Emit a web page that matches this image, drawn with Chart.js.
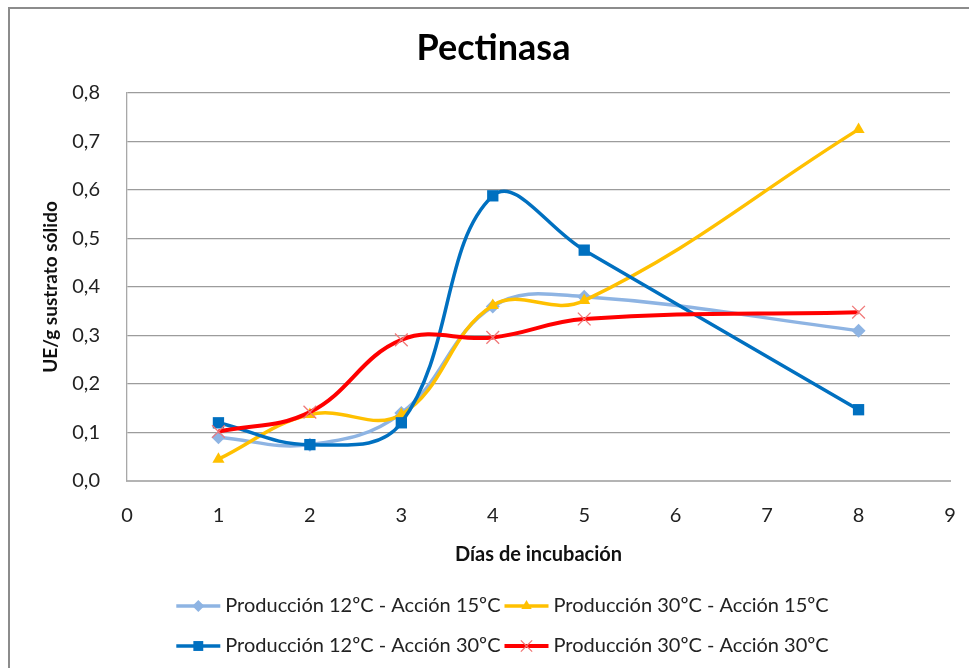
<!DOCTYPE html>
<html>
<head>
<meta charset="utf-8">
<script src="https://cdn.jsdelivr.net/npm/chart.js@4.4.0/dist/chart.umd.min.js"></script>
<style>
  html, body { margin: 0; padding: 0; background: #fff; }
  #wrap { position: relative; width: 969px; height: 668px; }
  #frame {
    position: absolute; left: 8px; top: 7px; right: -4px; bottom: -4px;
    border-top: 2px solid #8c8c8c; border-left: 2px solid #8c8c8c;
    pointer-events: none;
  }
</style>
</head>
<body>
<div id="wrap">
  <canvas id="chart" width="969" height="668"></canvas>
  <div id="frame"></div>
</div>
<script>
// Days of incubation (x) and enzyme activity (UE/g sustrato sólido)
const days = [1, 2, 3, 4, 5, 8];
const prod12acc15 = [0.09, 0.075, 0.14, 0.36, 0.38, 0.31];
const prod30acc15 = [0.045, 0.137, 0.137, 0.362, 0.372, 0.725];
const prod12acc30 = [0.12, 0.075, 0.12, 0.588, 0.476, 0.147];
const prod30acc30 = [0.102, 0.142, 0.291, 0.296, 0.334, 0.348];

const seriesNames = [
  "Producción 12ºC - Acción 15ºC",
  "Producción 30ºC - Acción 15ºC",
  "Producción 12ºC - Acción 30ºC",
  "Producción 30ºC - Acción 30ºC"
];

const FONT = "Lato, 'Open Sans', sans-serif";

const toPoints = values => values.map((v, i) => ({ x: days[i], y: v }));

const datasets = [
  {
    label: seriesNames[0],
    data: toPoints(prod12acc15),
    borderColor: "#8EB4E3",
    backgroundColor: "#8EB4E3",
    borderWidth: 3.5,
    pointStyle: "rectRot",
    pointRadius: 7,
    pointBorderWidth: 0,
    order: 4
  },
  {
    label: seriesNames[1],
    data: toPoints(prod30acc15),
    borderColor: "#FFC000",
    backgroundColor: "#FFC000",
    borderWidth: 3.5,
    pointStyle: "triangle",
    pointRadius: 7,
    pointBorderWidth: 0,
    order: 3
  },
  {
    label: seriesNames[2],
    data: toPoints(prod12acc30),
    borderColor: "#0070C0",
    backgroundColor: "#0070C0",
    borderWidth: 3.5,
    pointStyle: "rect",
    pointRadius: 8,
    pointBorderWidth: 0,
    order: 2
  },
  {
    label: seriesNames[3],
    data: toPoints(prod30acc30),
    borderColor: "#FF0000",
    backgroundColor: "#FF0000",
    borderWidth: 4,
    pointStyle: "crossRot",
    pointRadius: 9,
    pointBorderColor: "#F07878",
    pointBorderWidth: 1.3,
    order: 1
  }
];

// legend drawn like the spreadsheet one: line with marker in the middle, 2 columns
const bottomLegend = {
  id: "bottomLegend",
  afterDraw(chart) {
    const ctx = chart.ctx;
    const lineLen = 44, gap = 5, colGap = 4;
    const rowsY = [606, 646];
    ctx.save();
    ctx.font = "20px " + FONT;
    const widths = datasets.map(d => lineLen + gap + ctx.measureText(d.label).width);
    const colW = [Math.max(widths[0], widths[2]), Math.max(widths[1], widths[3])];
    const total = colW[0] + colGap + colW[1];
    const startX = chart.width / 2 + 18 - total / 2;
    datasets.forEach((d, i) => {
      const col = i % 2, row = Math.floor(i / 2);
      const x0 = startX + (col ? colW[0] + colGap : 0);
      const y = rowsY[row];
      ctx.strokeStyle = d.borderColor;
      ctx.lineWidth = d.borderWidth;
      ctx.beginPath();
      ctx.moveTo(x0, y);
      ctx.lineTo(x0 + lineLen, y);
      ctx.stroke();
      ctx.fillStyle = d.backgroundColor;
      ctx.strokeStyle = d.pointBorderColor || d.borderColor;
      ctx.lineWidth = d.pointBorderWidth || 0;
      Chart.helpers.drawPoint(ctx, {
        pointStyle: d.pointStyle,
        radius: d.pointRadius - 1,
        rotation: 0,
        borderWidth: d.pointBorderWidth
      }, x0 + lineLen / 2, y);
      ctx.fillStyle = "#222";
      ctx.textAlign = "left";
      ctx.textBaseline = "middle";
      ctx.fillText(d.label, x0 + lineLen + gap, y);
    });
    ctx.restore();
  }
};

const titlePlugin = {
  id: "topTitle",
  afterDraw(chart) {
    const ctx = chart.ctx;
    ctx.save();
    ctx.font = "bold 36px " + FONT;
    ctx.fillStyle = "#000";
    ctx.textAlign = "center";
    ctx.textBaseline = "middle";
    ctx.fillText("Pectinasa", chart.width / 2 + 9, 48);
    ctx.restore();
  }
};

new Chart(document.getElementById("chart"), {
  type: "line",
  data: { datasets },
  plugins: [bottomLegend, titlePlugin],
  options: {
    responsive: false,
    animation: false,
    layout: { padding: { top: 93, right: 19, bottom: 97, left: 0 } },
    elements: { line: { tension: 0.4, fill: false } },
    plugins: {
      legend: { display: false },
      title: { display: false },
      tooltip: { enabled: false }
    },
    scales: {
      x: {
        type: "linear",
        min: 0,
        max: 9,
        ticks: { stepSize: 1, padding: 23, color: "#222", font: { family: FONT, size: 20 } },
        grid: { display: false, drawTicks: false },
        border: { display: true, color: "#b4b4b4", width: 2 },
        title: {
          display: true,
          text: "Días de incubación",
          color: "#111",
          font: { family: FONT, size: 20, weight: "bold" },
          padding: { top: 0, bottom: 4 }
        },
        afterFit(scale) {
          scale.height = 90;
          scale.paddingLeft = 0;
          scale.paddingRight = 0;
        }
      },
      y: {
        min: 0,
        max: 0.8,
        ticks: {
          stepSize: 0.1,
          padding: 27,
          color: "#222",
          font: { family: FONT, size: 20 },
          callback: v => v.toFixed(1).replace(".", ",")
        },
        grid: { color: "#9c9c9c", lineWidth: 1.3, drawTicks: false },
        border: { display: true, color: "#a8a8a8", width: 1.3 },
        title: {
          display: true,
          text: "UE/g sustrato sólido",
          color: "#111",
          font: { family: FONT, size: 19, weight: "bold" },
          padding: { top: 39, bottom: 0 }
        },
        afterFit(scale) {
          scale.width = 127;
          scale.paddingTop = 0;
          scale.paddingBottom = 0;
        }
      }
    }
  }
});
</script>
</body>
</html>
